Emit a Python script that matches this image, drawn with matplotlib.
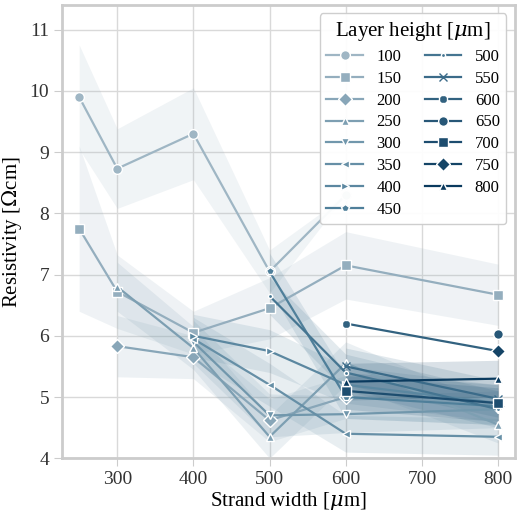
import matplotlib
matplotlib.use("Agg")
import matplotlib.pyplot as plt
import numpy as np
from matplotlib.colors import LinearSegmentedColormap

plt.rcParams["font.family"] = ["Liberation Serif", "DejaVu Serif"]
plt.rcParams["mathtext.fontset"] = "dejavuserif"

# ── Data ────────────────────────────────────────────────────────────────────
heights = [100, 150, 200, 250, 300, 350, 400, 450, 500, 550, 600, 650, 700, 750, 800]
markers = ["o", "s", "D", "^", "v", "<", ">", "p", ".", "x", "8", "o", "s", "D", "^"]

widths = {
    100: [250, 300, 400, 500, 600],
    150: [250, 300, 400, 500, 600, 800],
    200: [300, 400, 500, 600, 800],
    250: [300, 400, 500, 600, 800],
    300: [400, 500, 600, 800],
    350: [400, 500, 600, 800],
    400: [400, 500, 600, 800],
    450: [500, 600, 800],
    500: [500, 600, 800],
    550: [600, 800],
    600: [600, 800],
    650: [800],
    700: [600, 800],
    750: [800],
    800: [600, 800],
}
resistivity = {
    100: [9.9, 8.73, 9.3, 7.05, 8.3],
    150: [7.75, 6.72, 6.05, 6.45, 7.15, 6.67],
    200: [5.83, 5.65, 4.62, 5.0, 4.85],
    250: [6.8, 5.8, 4.35, 5.55, 4.55],
    300: [5.9, 4.7, 4.72, 4.8],
    350: [5.95, 5.2, 4.4, 4.35],
    400: [6.0, 5.75, 5.2, 4.9],
    450: [7.05, 5.0, 4.85],
    500: [6.65, 5.4, 4.8],
    550: [5.5, 4.97],
    600: [6.2, 5.75],
    650: [6.03],
    700: [5.1, 4.9],
    750: [5.75],
    800: [5.25, 5.3],
}
spread = {
    100: [0.85, 0.65, 0.75, 0.35, 0.0],
    150: [1.35, 0.6, 0.35, 0.5, 0.55, 0.5],
    200: [0.5, 0.35, 0.35, 0.35, 0.3],
    250: [0.4, 0.35, 0.35, 0.35, 0.3],
    300: [0.35, 0.35, 0.3, 0.3],
    350: [0.35, 0.35, 0.3, 0.3],
    400: [0.35, 0.35, 0.3, 0.3],
    450: [0.3, 0.35, 0.3],
    500: [0.3, 0.3, 0.3],
    550: [0.3, 0.3],
    600: [0.0, 0.0],
    650: [0.0],
    700: [0.3, 0.3],
    750: [0.0],
    800: [0.3, 0.3],
}

# ── Plot ────────────────────────────────────────────────────────────────────
cmap = LinearSegmentedColormap.from_list("bluegrey", ["#9fb6c4", "#4f7f9a", "#0a3a5e"])
fig, ax = plt.subplots(figsize=(5.2, 5.12), dpi=100)

for i, h in enumerate(heights):
    color = cmap(i / (len(heights) - 1))
    x = np.array(widths[h])
    y = np.array(resistivity[h])
    s = np.array(spread[h])
    if len(x) > 1:
        ax.fill_between(x, y - s, y + s, color=color, alpha=0.15, linewidth=0)
    ms = 7 if markers[i] in ("o", "s", "D", "8") else 6
    ax.plot(x, y, color=color, linewidth=1.6, marker=markers[i], markersize=ms,
            markeredgecolor="white" if markers[i] != "x" else color,
            markeredgewidth=1.0, label=str(h))

ax.set_xlim(228, 822)
ax.set_ylim(4.0, 11.4)
ax.set_xticks([300, 400, 500, 600, 700, 800])
ax.set_yticks(range(4, 12))
ax.grid(True, color="#d9d9d9", linewidth=1)
ax.set_axisbelow(True)
for sp in ax.spines.values():
    sp.set_color("#cccccc")
    sp.set_linewidth(2)
ax.tick_params(labelsize=14, colors="#333333", length=6, color="#cccccc")
ax.set_xlabel(r"Strand width [$\mu$m]", fontsize=15, labelpad=1)
ax.set_ylabel(r"Resistivity [$\Omega$cm]", fontsize=15, labelpad=4)

leg = ax.legend(title=r"Layer height [$\mu$m]", ncol=2, fontsize=12, title_fontsize=15,
                loc="upper right", handlelength=2.2, columnspacing=1.4,
                labelspacing=0.35, framealpha=0.95)

fig.subplots_adjust(left=0.12, right=0.99, top=0.99, bottom=0.105)
fig.savefig("out.png", dpi=100)
